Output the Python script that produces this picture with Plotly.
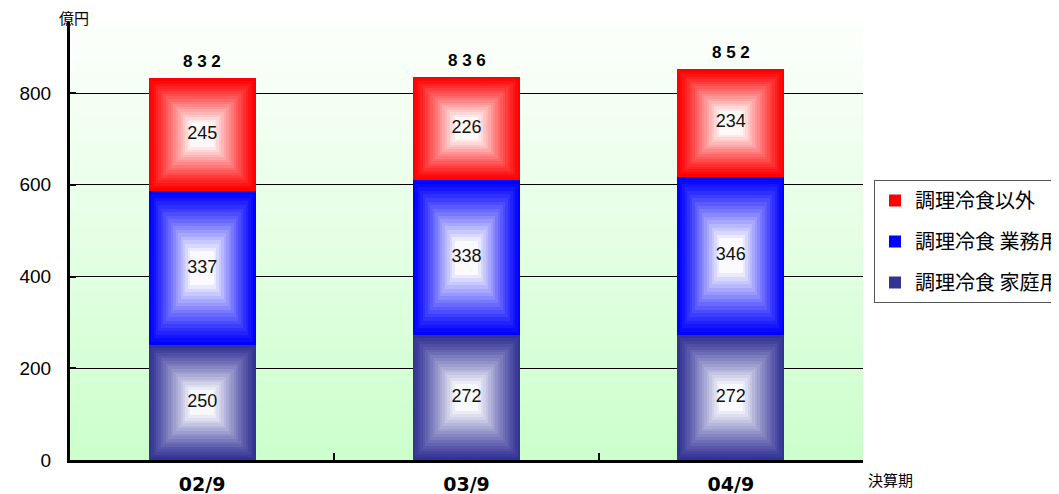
import plotly.graph_objects as go

# ---- data ----
categories = ["02/9", "03/9", "04/9"]
home_use = [250, 272, 272]       # 調理冷食 家庭用
business_use = [337, 338, 346]   # 調理冷食 業務用
other = [245, 226, 234]          # 調理冷食以外
series_names = ["調理冷食 家庭用", "調理冷食 業務用", "調理冷食以外"]
series_values = [home_use, business_use, other]
y_ticks = [0, 200, 400, 600, 800]

# ---- styling / layout ----
W, H = 1100, 494
OFF = 8  # page body margin
L, R, T, B = 70 - OFF, W - (863 - OFF), 22 - OFF, H - (460 - OFF)
plot_w = W - L - R
plot_h = H - T - B
y_max = 955
px_per_cat = plot_w / len(categories)
bar_w = 107 / px_per_cat

edge_colors = [(51, 51, 150), (0, 0, 255), (255, 0, 0)]
center_colors = [(248, 248, 255), (250, 250, 255), (255, 248, 248)]
N = 18
shrink = 0.78
legend_pad = "\u00a0\u00a0\u00a0\u00a0"


def lerp(c1, c2, t):
    return "rgb(%d,%d,%d)" % tuple(round(a + (b - a) * t) for a, b in zip(c1, c2))


fig = go.Figure()

cum = [0] * len(categories)
totals = [sum(v) for v in zip(*series_values)]
label_x, label_y, label_t = [], [], []
for si, (name, vals) in enumerate(zip(series_names, series_values)):
    bases = list(cum)
    for k in range(N):
        f = k / (N - 1)
        s = 1 - shrink * f
        t = f ** 1.15
        col = lerp(edge_colors[si], center_colors[si], t)
        h_k = [v * s for v in vals]
        b_k = [b + (v - hk) / 2 for b, v, hk in zip(bases, vals, h_k)]
        w_k = bar_w * s
        fig.add_trace(go.Bar(
            x=categories, y=h_k, base=b_k, width=[w_k] * len(categories),
            marker=dict(color=col, line=dict(width=0)),
            name=name + legend_pad, legendgroup=name, showlegend=(k == 0),
            legendrank=100 - si * 10,
            hoverinfo="skip",
        ))
    for i, v in enumerate(vals):
        label_x.append(categories[i])
        label_y.append(bases[i] + v / 2)
        label_t.append(str(v))
        cum[i] += v

fig.add_trace(go.Scatter(
    x=label_x, y=label_y, text=label_t, mode="text",
    textfont=dict(family="Liberation Sans, Arial", size=18, color="#111"),
    showlegend=False, hoverinfo="skip",
))

annotations = []
for c, tot in zip(categories, totals):
    annotations.append(dict(
        x=c, y=tot, xref="x", yref="y", text=" ".join(str(tot)), showarrow=False,
        yanchor="bottom", yshift=5,
        font=dict(family="Liberation Sans, Arial", size=17, color="#000", weight="bold"),
    ))

annotations += [
    dict(text="億円", xref="paper", yref="paper", x=4 / plot_w, y=(460 - 18) / plot_h,
         showarrow=False, xanchor="center", yanchor="middle",
         font=dict(family="Noto Sans CJK JP", size=15, color="#000")),
    dict(text="決算期", xref="paper", yref="paper", x=(890 - 70) / plot_w, y=(460 - 480) / plot_h,
         showarrow=False, xanchor="center", yanchor="middle",
         font=dict(family="Noto Sans CJK JP", size=15, color="#000")),
]

# background gradient
nstrips = 60
shapes = []
for j in range(nstrips):
    t = j / (nstrips - 1)
    shapes.append(dict(
        type="rect", xref="paper", yref="paper", layer="below",
        x0=0, x1=1, y0=j / nstrips, y1=(j + 1) / nstrips + 0.002,
        fillcolor=lerp((204, 255, 204), (252, 255, 252), t), line=dict(width=0),
    ))

fig.update_layout(
    width=W, height=H,
    margin=dict(l=L, r=R, t=T, b=B, autoexpand=False),
    paper_bgcolor="white", plot_bgcolor="white",
    barmode="overlay", bargap=0,
    shapes=shapes,
    annotations=annotations,
    showlegend=True,
    legend=dict(
        x=(874 - 70) / plot_w, y=(460 - 180) / plot_h, xanchor="left", yanchor="top",
        bordercolor="#555", borderwidth=1, bgcolor="white",
        font=dict(family="Noto Sans CJK JP", size=20, color="#000"),
        tracegroupgap=12, itemwidth=30,
    ),
    font=dict(family="Liberation Sans, Arial", color="#000"),
)
fig.update_xaxes(
    type="category", range=[-0.5, 2.5], showline=True, linecolor="black", linewidth=3,
    ticks="inside", tickson="boundaries", ticklen=7, tickwidth=2, tickcolor="black",
    showgrid=False, zeroline=False,
    tickfont=dict(family="DejaVu Sans, Liberation Sans", size=19, color="#000", weight="bold"),
    ticklabelstandoff=5,
)
fig.update_yaxes(
    range=[0, y_max], tickvals=y_ticks, showline=True, linecolor="black", linewidth=3,
    ticks="inside", ticklen=6, tickwidth=2, tickcolor="black",
    showgrid=True, gridcolor="black", gridwidth=1, zeroline=False,
    tickfont=dict(family="Liberation Sans, Arial", size=19, color="#000"),
    ticklabelstandoff=12,
)

fig.write_html("out.html")
